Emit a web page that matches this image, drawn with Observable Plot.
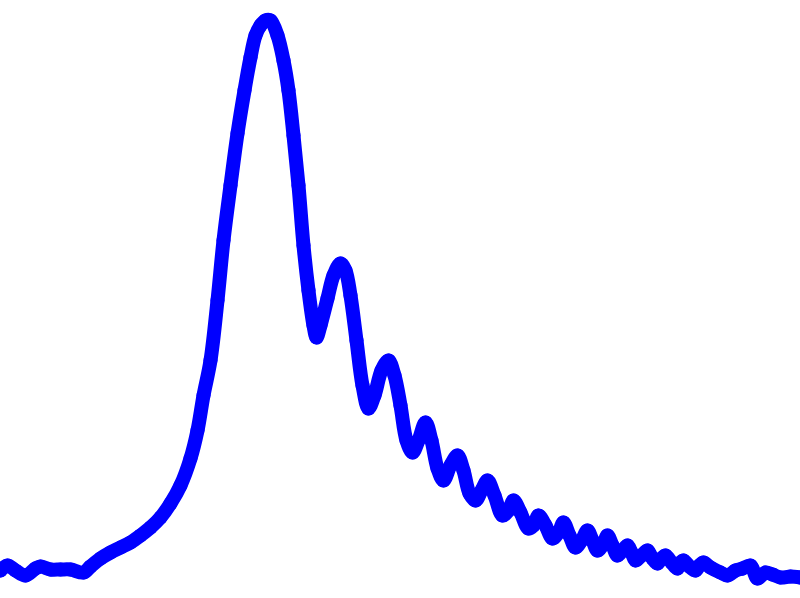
<!DOCTYPE html>
<html>
<head>
<meta charset="utf-8">
<script src="https://cdn.jsdelivr.net/npm/d3@7"></script>
<script src="https://cdn.jsdelivr.net/npm/@observablehq/plot@0.6"></script>
<style>
  html, body { margin: 0; padding: 0; background: #fff; }
  #chart { width: 800px; height: 598px; overflow: hidden; }
</style>
</head>
<body>
<div id="chart"></div>
<script>
// Positions along the horizontal axis (arbitrary units)
const xs = [0,7,15,25,35,40,50,60,70,83,90,100,110,120,130,140,150,160,170,180,190,197,203,210,217,223,230,237,244,250,255,260,265,270,277,283,288,293,298,303,308,313,316,320,327,333,340,345,350,356,362,368,374,381,388,394,400,406,412,418,425,431,437,443,450,457,463,469,475,481,487,494,502,508,513,520,528,533,538,545,552,558,563,569,575,581,587,592,597,602,607,612,617,622,627,631,635,641,647,652,657,661,665,671,677,680,683,689,695,699,703,710,720,727,735,742,750,757,765,772,780,790,800];
// Intensity values
const ys = [28,33,28,23,30,32,29,29,29,26,32,40,46,51,56,63,71,81,95,113,140,168,203,238,298,358,413,465,508,541,563,573,578,578,563,538,508,463,413,353,308,273,261,273,300,323,335,328,303,258,213,190,203,228,238,223,193,158,146,158,176,158,130,118,133,143,128,105,98,108,118,103,83,88,98,86,70,73,83,73,60,66,76,63,51,58,68,58,48,53,63,53,43,48,53,46,38,43,48,40,35,40,43,36,30,36,38,32,28,33,36,31,26,23,28,30,33,20,26,24,21,22,21];

const data = xs.map((x, i) => ({x, y: ys[i]}));

const chart = Plot.plot({
  width: 800,
  height: 598,
  margin: 0,
  x: {domain: [0, 800], axis: null},
  y: {domain: [0, 598], axis: null},
  marks: [
    Plot.line(data, {x: "x", y: "y", stroke: "#0000ff", strokeWidth: 14, curve: "catmull-rom", strokeLinejoin: "round", strokeLinecap: "round"}),
    Plot.dot(data, {x: "x", y: "y", r: 7, fill: "#0000ff", stroke: "none"})
  ]
});
document.getElementById("chart").appendChild(chart);
</script>
</body>
</html>
